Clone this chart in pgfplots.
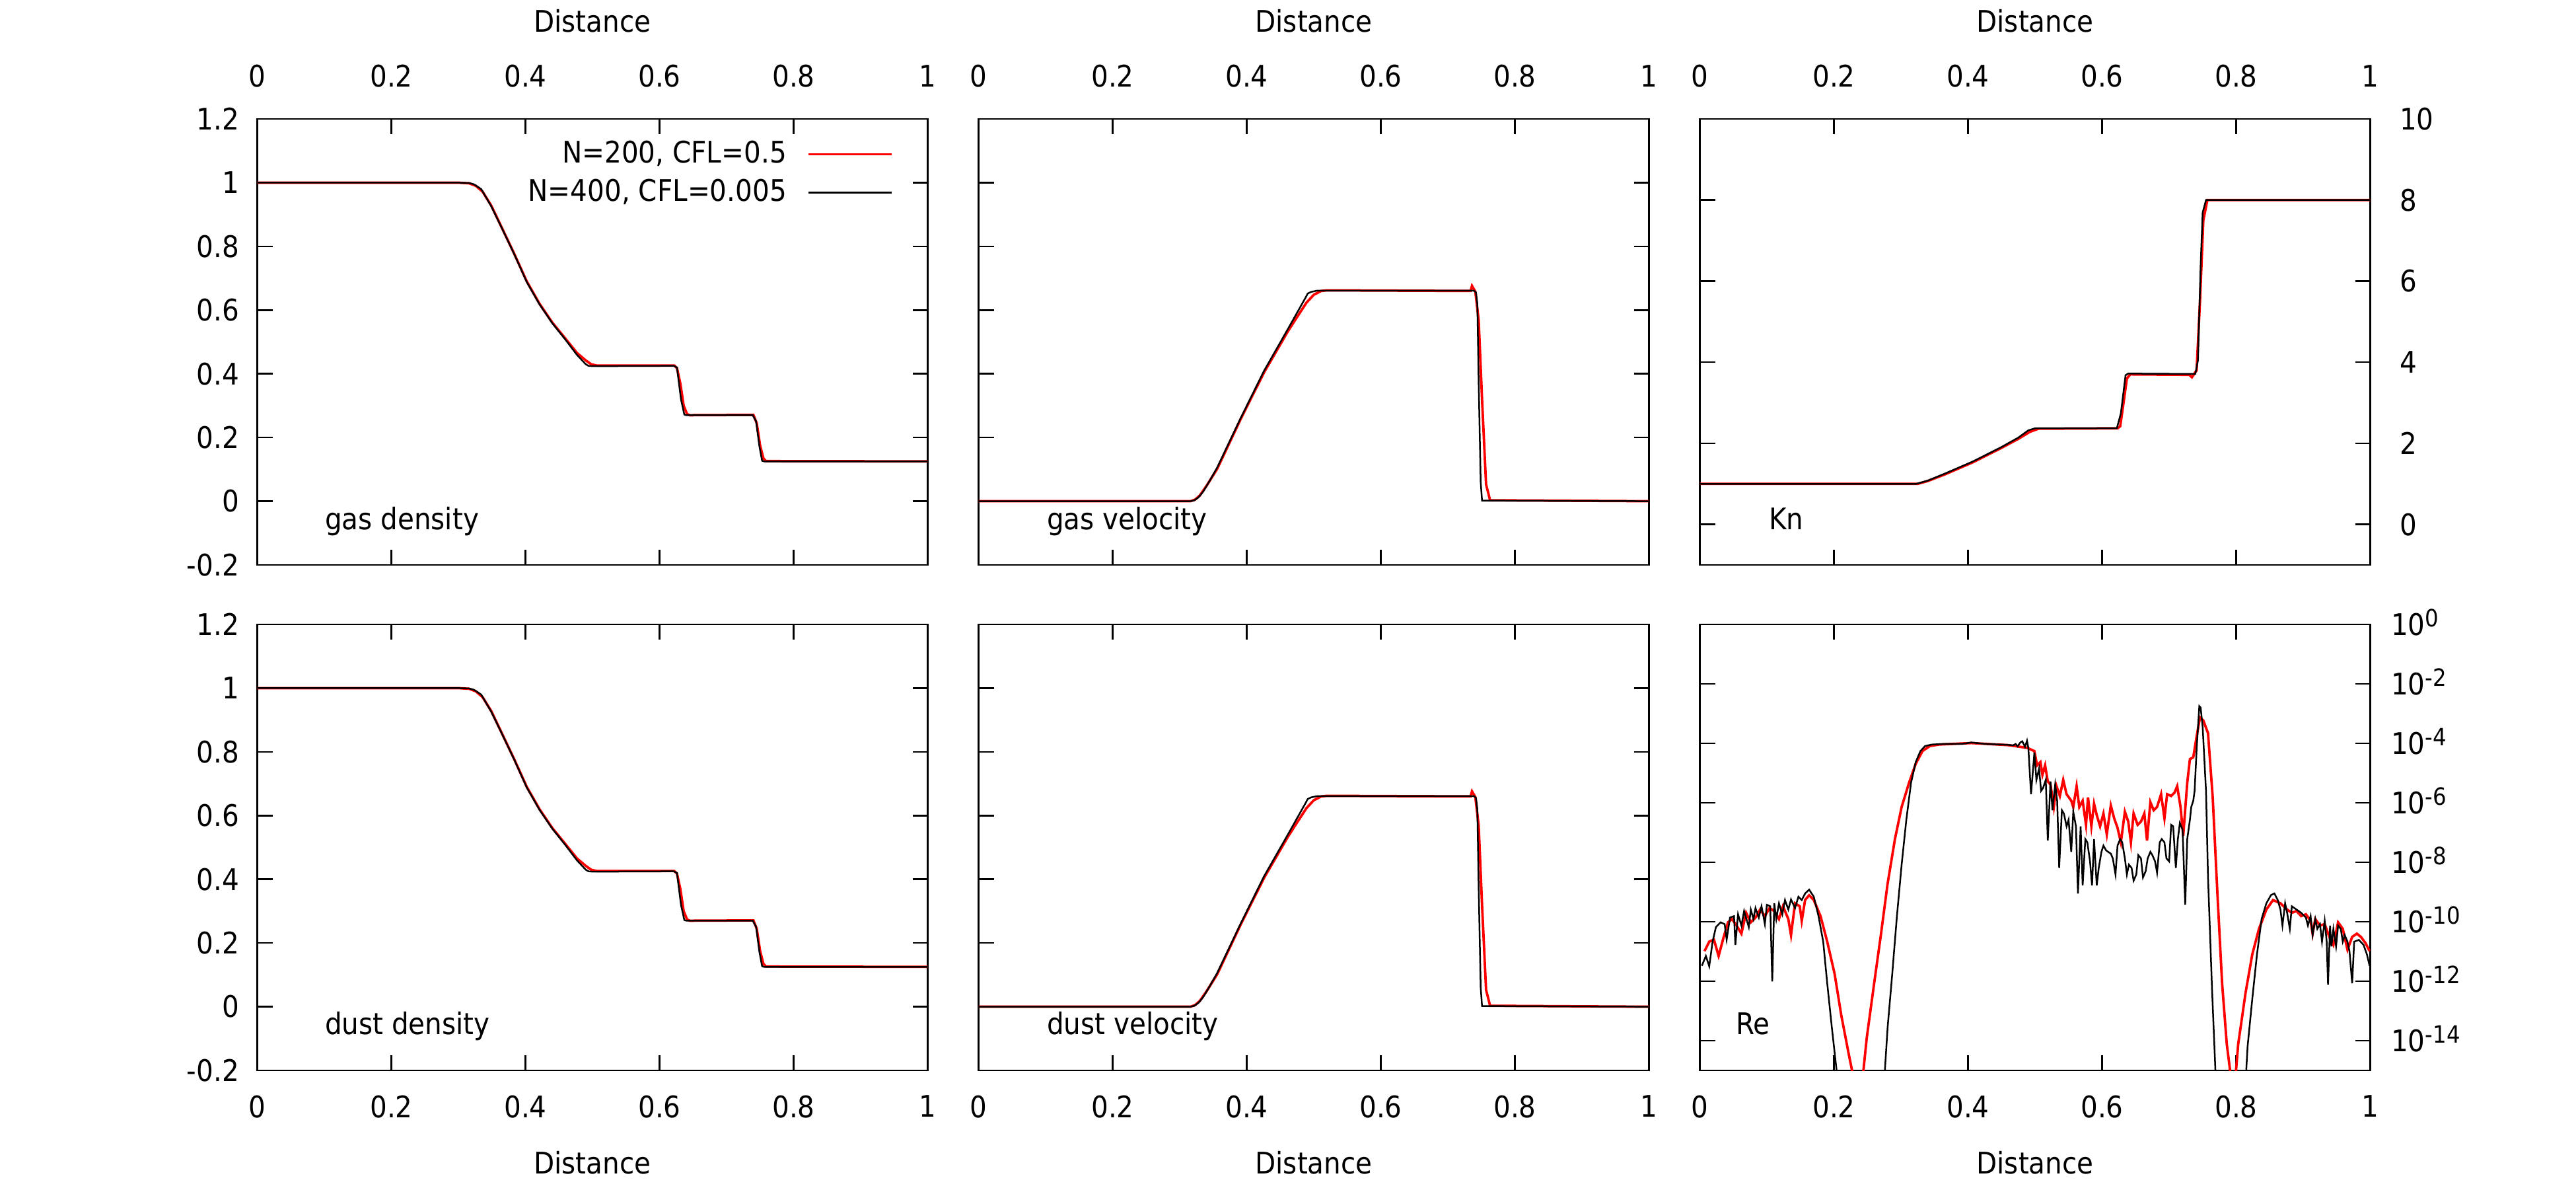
\documentclass[border=0pt]{standalone}
\usepackage{pgfplots}
\pgfplotsset{compat=1.18}
\usepackage{pgfplotstable}
\usepackage{fontspec}
\setmainfont{DejaVu Sans}[FakeStretch=0.9]
\definecolor{cred}{RGB}{255,0,0}
\newcommand{\ft}{\fontsize{9}{10}\selectfont}
\newcommand{\tp}[1]{10\raisebox{2.5pt}{\fontsize{7.2}{8}\selectfont #1}}
\tikzset{lab/.style={anchor=base west, font=\ft, inner sep=0pt}}

\pgfplotstableread{
x y
0 1.0
0.300 1.0
0.316 0.999
0.323 0.995
0.334 0.98
0.349 0.926
0.364 0.861
0.383 0.777
0.402 0.688
0.421 0.618
0.440 0.559
0.459 0.509
0.477 0.459
0.490 0.430
0.494 0.425
0.500 0.424
0.621 0.425
0.626 0.420
0.632 0.320
0.637 0.272
0.640 0.270
0.739 0.270
0.744 0.251
0.749 0.172
0.753 0.127
0.756 0.125
1.0 0.125
}\densK

\pgfplotstableread{
x y
0 1.0
0.300 1.0
0.316 0.998
0.326 0.990
0.336 0.972
0.349 0.928
0.364 0.862
0.383 0.778
0.402 0.690
0.421 0.620
0.440 0.561
0.459 0.512
0.477 0.465
0.490 0.442
0.498 0.430
0.506 0.426
0.622 0.426
0.626 0.418
0.631 0.370
0.636 0.300
0.641 0.274
0.645 0.270
0.740 0.271
0.745 0.245
0.750 0.175
0.755 0.134
0.759 0.126
1.0 0.125
}\densR

\pgfplotstableread{
x y
0 0
0.316 0
0.322 0.003
0.328 0.012
0.335 0.030
0.345 0.065
0.356 0.106
0.391 0.261
0.426 0.410
0.461 0.539
0.488 0.640
0.491 0.652
0.496 0.657
0.505 0.661
0.739 0.661
0.742 0.655
0.744 0.620
0.746 0.370
0.749 0.060
0.751 0.002
1.0 0
}\velK

\pgfplotstableread{
x y
0 0
0.316 0
0.323 0.005
0.330 0.018
0.340 0.048
0.356 0.102
0.391 0.258
0.426 0.405
0.461 0.532
0.475 0.578
0.489 0.623
0.500 0.648
0.511 0.660
0.520 0.662
0.734 0.660
0.736 0.676
0.741 0.658
0.746 0.568
0.751 0.320
0.757 0.053
0.763 0.003
1.0 0
}\velR

\pgfplotstableread{
x y
0 1.0
0.323 1.0
0.340 1.08
0.365 1.25
0.407 1.55
0.449 1.90
0.475 2.14
0.490 2.32
0.500 2.37
0.622 2.37
0.628 2.74
0.635 3.68
0.639 3.72
0.739 3.71
0.743 4.05
0.747 6.39
0.750 7.69
0.755 8.0
1.0 8.0
}\knK

\pgfplotstableread{
x y
0 1.0
0.325 1.0
0.340 1.07
0.365 1.23
0.407 1.53
0.449 1.88
0.475 2.11
0.492 2.28
0.505 2.36
0.623 2.37
0.627 2.42
0.632 3.00
0.637 3.60
0.642 3.70
0.730 3.69
0.734 3.63
0.741 3.80
0.746 5.50
0.751 7.50
0.757 8.0
1.0 8.0
}\knR

\pgfplotstableread{
x y
0.003 -11.48
0.009 -11.15
0.014 -11.50
0.019 -10.67
0.024 -10.18
0.031 -10.02
0.037 -10.08
0.040 -10.60
0.045 -9.86
0.051 -9.81
0.053 -10.78
0.057 -9.75
0.062 -10.13
0.066 -9.64
0.073 -10.18
0.076 -9.59
0.080 -9.91
0.083 -9.54
0.088 -9.86
0.092 -9.48
0.097 -10.08
0.100 -9.43
0.105 -9.48
0.108 -12.01
0.111 -9.38
0.114 -9.91
0.118 -9.38
0.123 -9.75
0.127 -9.27
0.132 -9.59
0.136 -9.25
0.142 -9.54
0.147 -9.16
0.152 -9.27
0.157 -9.05
0.163 -8.92
0.170 -9.16
0.177 -9.81
0.184 -10.67
0.190 -12.07
0.197 -13.58
0.204 -15.0
0.212 -16.5
0.268 -16.5
0.276 -15.0
0.280 -13.58
0.287 -11.75
0.294 -9.80
0.301 -8.08
0.308 -6.57
0.315 -5.33
0.322 -4.63
0.329 -4.26
0.336 -4.09
0.346 -4.04
0.364 -4.02
0.391 -4.02
0.405 -3.97
0.426 -4.02
0.460 -4.05
0.467 -4.07
0.471 -4.02
0.474 -4.10
0.478 -3.97
0.481 -3.93
0.485 -4.12
0.488 -3.91
0.490 -4.15
0.494 -5.71
0.499 -4.31
0.502 -5.23
0.506 -4.85
0.509 -5.60
0.512 -5.50
0.516 -5.23
0.519 -7.27
0.523 -5.28
0.526 -6.25
0.530 -5.39
0.533 -5.93
0.536 -8.19
0.540 -6.25
0.543 -6.36
0.547 -6.79
0.550 -6.57
0.554 -7.65
0.557 -6.30
0.561 -6.79
0.564 -9.05
0.568 -6.79
0.571 -8.78
0.575 -7.22
0.578 -7.33
0.582 -7.97
0.585 -8.78
0.588 -7.22
0.592 -8.78
0.595 -8.19
0.599 -7.65
0.602 -7.44
0.606 -7.60
0.609 -7.65
0.613 -7.71
0.616 -7.87
0.620 -8.41
0.623 -7.44
0.627 -7.22
0.630 -7.33
0.634 -7.87
0.637 -8.41
0.640 -8.08
0.644 -8.19
0.647 -8.62
0.651 -8.41
0.654 -7.76
0.658 -7.87
0.661 -8.51
0.665 -8.30
0.668 -7.87
0.672 -7.65
0.675 -7.76
0.679 -7.97
0.682 -8.35
0.686 -7.33
0.689 -7.22
0.693 -7.33
0.696 -7.87
0.700 -7.97
0.703 -6.74
0.706 -6.79
0.710 -8.19
0.713 -7.22
0.716 -6.68
0.720 -6.90
0.724 -9.43
0.727 -7.22
0.731 -6.57
0.733 -6.14
0.736 -5.93
0.738 -5.60
0.741 -4.20
0.745 -2.75
0.747 -2.80
0.750 -3.45
0.755 -5.60
0.758 -8.51
0.764 -12.28
0.769 -15.0
0.775 -17.0
0.810 -17.0
0.817 -14.2
0.824 -12.6
0.831 -11.1
0.838 -9.9
0.845 -9.38
0.852 -9.10
0.857 -9.05
0.862 -9.27
0.866 -9.59
0.869 -10.13
0.873 -9.38
0.876 -9.70
0.880 -10.24
0.883 -9.48
0.890 -9.59
0.897 -9.70
0.904 -9.86
0.907 -10.13
0.911 -9.81
0.914 -10.45
0.918 -9.91
0.921 -10.24
0.925 -10.08
0.928 -10.67
0.932 -9.97
0.935 -10.67
0.937 -12.12
0.940 -10.13
0.942 -10.83
0.945 -10.24
0.949 -10.83
0.952 -10.13
0.956 -10.24
0.959 -10.67
0.962 -10.45
0.966 -10.67
0.969 -10.99
0.973 -12.07
0.976 -10.67
0.983 -10.61
0.990 -10.78
0.995 -11.10
0.999 -11.48
}\reK

\pgfplotstableread{
x y
0.007 -10.99
0.014 -10.67
0.021 -10.60
0.028 -11.15
0.035 -10.56
0.042 -10.02
0.048 -9.91
0.055 -10.13
0.062 -10.40
0.069 -9.70
0.076 -10.02
0.083 -9.86
0.090 -9.59
0.097 -9.81
0.104 -9.54
0.111 -9.64
0.118 -9.91
0.124 -9.48
0.132 -9.91
0.136 -10.45
0.142 -9.38
0.149 -9.48
0.152 -9.97
0.157 -9.27
0.163 -9.11
0.170 -9.27
0.180 -9.81
0.190 -10.67
0.201 -11.75
0.211 -13.15
0.222 -14.44
0.227 -15.0
0.234 -16.3
0.239 -16.3
0.244 -15.0
0.249 -13.90
0.260 -12.07
0.270 -10.45
0.280 -8.73
0.291 -7.22
0.301 -6.14
0.312 -5.33
0.322 -4.69
0.332 -4.26
0.343 -4.09
0.357 -4.04
0.405 -3.99
0.460 -4.06
0.488 -4.15
0.499 -4.26
0.503 -4.74
0.508 -4.63
0.511 -5.06
0.515 -4.74
0.519 -5.28
0.523 -5.39
0.528 -6.14
0.532 -5.44
0.537 -5.77
0.542 -5.23
0.547 -5.71
0.554 -5.93
0.557 -6.14
0.562 -5.44
0.566 -6.14
0.571 -5.93
0.576 -6.74
0.579 -5.82
0.584 -6.79
0.588 -6.03
0.592 -6.41
0.597 -6.79
0.602 -6.36
0.607 -7.06
0.613 -6.09
0.618 -6.52
0.623 -6.84
0.628 -7.33
0.634 -6.30
0.639 -6.63
0.643 -7.33
0.647 -6.36
0.653 -6.74
0.658 -6.63
0.663 -6.36
0.667 -7.27
0.672 -5.98
0.677 -6.25
0.682 -6.14
0.688 -5.71
0.693 -6.52
0.697 -5.71
0.703 -5.77
0.708 -5.66
0.712 -5.44
0.717 -6.14
0.721 -7.11
0.727 -5.33
0.731 -4.53
0.736 -4.47
0.741 -3.77
0.746 -3.13
0.751 -3.23
0.758 -3.66
0.765 -5.82
0.772 -9.05
0.779 -12.07
0.786 -14.12
0.792 -15.2
0.799 -15.2
0.803 -14.12
0.814 -12.39
0.824 -11.10
0.834 -10.24
0.845 -9.59
0.855 -9.27
0.866 -9.38
0.876 -9.59
0.883 -9.70
0.890 -9.64
0.897 -9.81
0.904 -9.75
0.911 -9.97
0.914 -10.40
0.918 -9.91
0.925 -10.13
0.932 -10.08
0.939 -10.51
0.945 -10.78
0.952 -10.02
0.959 -10.24
0.966 -10.94
0.973 -10.51
0.980 -10.40
0.986 -10.51
0.993 -10.72
0.999 -10.99
}\reR

\pgfplotsset{
  pan/.style={
    scale only axis, width=203pt, height=135pt,
    xmin=0, xmax=1, xtick={0,0.2,0.4,0.6,0.8,1},
    tick align=inside, major tick length=4.6pt,
    axis line style={line width=0.5pt}, every tick/.style={black, line width=0.5pt},
    /pgf/number format/assume math mode=true,
    ticklabel style={font=\ft},
    label style={font=\ft},
    clip=true,
  },
  top/.style={xticklabel pos=upper, xticklabel style={yshift=6.1pt},
    xlabel={Distance}, xlabel style={at={(axis description cs:0.5,1)}, anchor=center, yshift=29.6pt}},
  bot/.style={xticklabel pos=lower, xticklabel style={yshift=-4.1pt},
    xlabel={Distance}, xlabel style={at={(axis description cs:0.5,0)}, anchor=center, yshift=-28pt}},
  dv/.style={ymin=-0.2, ymax=1.2, ytick={-0.2,0,0.2,0.4,0.6,0.8,1,1.2}},
  rl/.style={cred, line width=0.75pt},
  bl/.style={black, line width=0.5pt},
}

\begin{document}
\begin{tikzpicture}
\useasboundingbox (0,0) rectangle (780pt,360pt);

% gas density
\begin{axis}[pan, top, dv, at={(77.9pt,189pt)}, anchor=south west,
  yticklabel style={xshift=-2pt},
  legend plot pos=right, legend cell align=right,
  legend image code/.code={\draw[#1] (0pt,0pt) -- (25.2pt,0pt);},
  legend style={draw=none, fill=none, font=\ft, inner sep=0pt, outer sep=0pt,
    at={(0.948,0.954)}, anchor=north east, column sep=6.2pt, row sep=2.6pt,
    nodes={inner sep=0pt, text height=7pt, text depth=2pt}}]
\addplot[rl] table {\densR};
\addlegendentry{N=200, CFL=0.5}
\addplot[bl] table {\densK};
\addlegendentry{N=400, CFL=0.005}
\node[lab] at (rel axis cs:0.100,0.080) {gas density};
\end{axis}

% gas velocity
\begin{axis}[pan, top, dv, at={(296.3pt,189pt)}, anchor=south west, yticklabels={}]
\addplot[rl] table {\velR};
\addplot[bl] table {\velK};
\node[lab] at (rel axis cs:0.101,0.080) {gas velocity};
\end{axis}

% Kn
\begin{axis}[pan, top, at={(514.7pt,189pt)}, anchor=south west,
  ymin=-1, ymax=10, ytick={0,2,4,6,8,10}, yticklabel pos=right,
  yticklabel style={xshift=5.4pt}]
\addplot[rl] table {\knR};
\addplot[bl] table {\knK};
\node[lab] at (rel axis cs:0.102,0.080) {Kn};
\end{axis}

% dust density
\begin{axis}[pan, bot, dv, at={(77.9pt,36pt)}, anchor=south west,
  yticklabel style={xshift=-2pt}]
\addplot[rl] table {\densR};
\addplot[bl] table {\densK};
\node[lab] at (rel axis cs:0.100,0.081) {dust density};
\end{axis}

% dust velocity
\begin{axis}[pan, bot, dv, at={(296.3pt,36pt)}, anchor=south west, yticklabels={}]
\addplot[rl] table {\velR};
\addplot[bl] table {\velK};
\node[lab] at (rel axis cs:0.101,0.081) {dust velocity};
\end{axis}

% Re
\begin{axis}[pan, bot, at={(514.7pt,36pt)}, anchor=south west,
  ymin=-15, ymax=0, ytick={0,-2,-4,-6,-8,-10,-12,-14},
  yticklabels={\tp{0},\tp{-2},\tp{-4},\tp{-6},\tp{-8},\tp{-10},\tp{-12},\tp{-14}},
  yticklabel pos=right, yticklabel style={xshift=2.8pt, yshift=0.6pt}]
\addplot[rl] table {\reR};
\addplot[bl] table {\reK};
\node[lab] at (rel axis cs:0.053,0.081) {Re};
\end{axis}
\end{tikzpicture}
\end{document}
